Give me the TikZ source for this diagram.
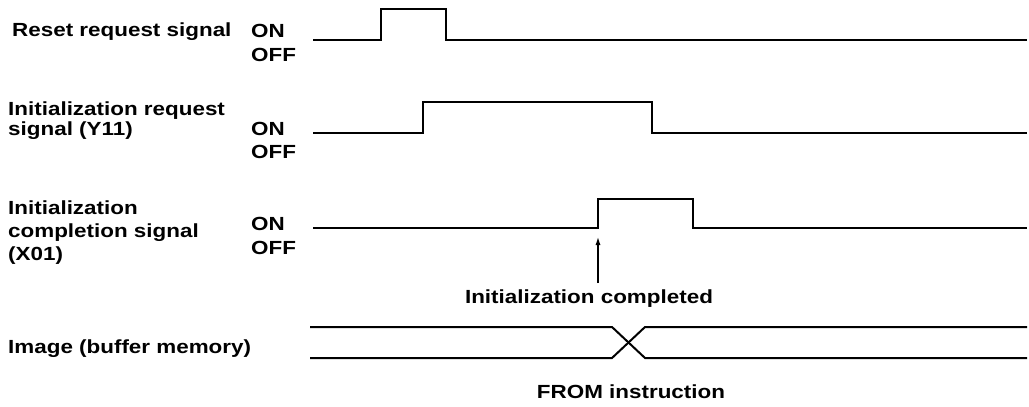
\documentclass[tikz,border=0pt]{standalone}
\usepackage{fontspec}
\setmainfont{Liberation Sans}[FakeStretch=1.18]
\usetikzlibrary{arrows.meta}

\definecolor{sigline}{rgb}{0,0,0}

\tikzset{
  sig/.style={sigline, line width=2pt, line join=miter},
  txt/.style={font=\bfseries\fontsize{19}{22}\selectfont, inner sep=0pt, anchor=base west},
  ctxt/.style={txt, anchor=base},
}

\begin{document}
\begin{tikzpicture}[x=1pt, y=-1pt]
            \useasboundingbox (0,0) rectangle (1029,407);

            % signal names
            \node[txt] (reset) at (12,36) {Reset request signal};
            \node[txt] (initreqa) at (8,115) {Initialization request};
            \node[txt] (initreqb) at (8,135) {signal (Y11)};
            \node[txt] (initcpla) at (8,214) {Initialization};
            \node[txt] (initcplb) at (8,237) {completion signal};
            \node[txt] (initcplc) at (8,260) {(X01)};
            \node[txt] (image) at (8,353) {Image (buffer memory)};

            % levels
            \node[txt] (onA) at (251,37) {ON};
            \node[txt] (offA) at (251,61) {OFF};
            \node[txt] (onB) at (251,135) {ON};
            \node[txt] (offB) at (251,158) {OFF};
            \node[txt] (onC) at (251,230) {ON};
            \node[txt] (offC) at (251,254) {OFF};

            % waveforms
            \draw[sig] (313,40) -- (381,40) -- (381,9) -- (446,9) -- (446,40) -- (1027,40);
            \draw[sig] (313,133) -- (423,133) -- (423,102) -- (652,102) -- (652,133) -- (1027,133);
            \draw[sig] (313,228) -- (598,228) -- (598,199) -- (693,199) -- (693,228) -- (1027,228);
            \draw[sig] (310,327) -- (612,327) -- (645,358) -- (1027,358);
            \draw[sig] (310,358) -- (612,358) -- (645,327) -- (1027,327);

            % events
            \coordinate (done) at (598,236);
            \node[ctxt] (initdone) at (589,303) {Initialization completed};
            \node[ctxt] (fromins) at (631,398) {FROM instruction};
            \draw[sig, shorten <=6pt, -{Latex[length=9pt,width=5pt]}] (initdone.north -| done) -- (done);
        \end{tikzpicture}
\end{document}
